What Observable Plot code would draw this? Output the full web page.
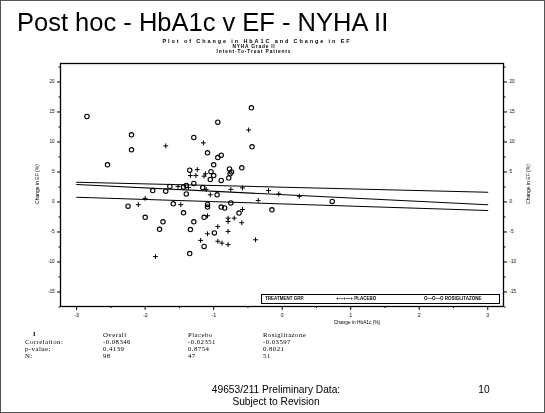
<!DOCTYPE html>
<html><head><meta charset="utf-8">
<script src="https://cdn.jsdelivr.net/npm/d3@7"></script>
<script src="https://cdn.jsdelivr.net/npm/@observablehq/plot@0.6"></script>
<style>
body{margin:0;background:#fff;}
#slide{position:relative;width:545px;height:413px;overflow:hidden;font-family:"Liberation Sans",Arial,sans-serif;color:#000;background:#fff;}
#border{position:absolute;left:0;top:0;width:545px;height:413px;box-sizing:border-box;border:1px solid #555;pointer-events:none;}
#chart{position:absolute;left:0;top:0;}
#texts{position:absolute;left:0;top:0;width:545px;height:413px;filter:grayscale(1);}
.t{position:absolute;white-space:nowrap;line-height:1;transform:translate(0,-50%);color:#000;}
.c{transform:translate(-50%,-50%);}
.serif{font-family:"Liberation Serif","Times New Roman",serif;}
</style></head><body>
<div id="slide"><div id="chart"></div><div id="texts"></div><div id="border"></div></div>
<script>
// ---- data ----
const rosiX = [-2.85,-0.45,-0.94,-2.2,-1.29,-2.2,-0.44,-1.09,-0.94,-0.89,-2.55,-1.0,-1.35,-0.77,-0.74,-0.59,-1.04,-1.0,-0.76,-1.05,-0.89,-0.78,-1.29,-1.64,-1.44,-1.4,-1.16,-1.89,-1.7,-1.4,-0.95,0.73,-0.75,-2.25,-1.59,-1.09,-1.09,-0.89,-0.84,-0.15,-1.44,-0.63,-2.0,-1.14,-1.29,-1.74,-1.79,-1.34,-0.99,-1.14,-1.35];
const rosiY = [14.25,15.7,13.3,11.2,10.75,8.7,9.2,8.2,7.4,7.8,6.2,6.2,5.3,5.5,5.0,5.7,5.05,4.4,4.7,3.75,3.6,4.0,3.1,2.6,2.5,2.75,2.4,1.9,1.8,1.35,1.2,0.1,-0.15,-0.7,-0.3,-0.4,-0.85,-0.85,-1.0,-1.3,-1.8,-1.85,-2.55,-2.55,-3.3,-3.3,-4.55,-4.6,-5.15,-7.4,-8.6];
const placeboX = [-0.49,-1.15,-1.7,-1.24,-1.34,-1.26,-1.14,-1.12,-1.52,-1.37,-1.11,-1.05,-0.75,-0.58,-0.2,-0.05,0.25,-0.35,-2.1,-1.48,-0.58,-0.7,-0.79,-0.79,-1.09,-0.59,-0.94,-1.09,-0.79,-1.19,-0.39,-0.94,-0.88,-0.79,-1.85,-2.0];
const placeboY = [12.0,9.85,9.35,5.4,4.4,4.4,4.3,4.7,2.6,2.4,2.1,1.2,2.1,2.35,1.9,1.35,0.95,0.25,-0.45,-0.45,-1.25,-2.7,-2.7,-3.25,-2.3,-3.45,-4.1,-5.3,-4.9,-6.4,-6.3,-6.55,-6.85,-7.1,-9.1,0.6];
const regGroups = ["Placebo","Overall","Rosiglitazone"];
const regXStart = -3, regXEnd = 3;
const regYStart = [3.3, 2.92, 0.8];
const regYEnd = [1.63, -0.47, -1.42];
const xTicks = [-3,-2,-1,0,1,2,3];
const xMinor = [-2.5,-1.5,-0.5,0.5,1.5,2.5];
const yTicks = [-15,-10,-5,0,5,10,15,20];
const yMinor = [-12.5,-7.5,-2.5,2.5,7.5,12.5,17.5,22.5,-17.5];
const statColumns = ["Overall","Placebo","Rosiglitazone"];
const statRows = ["Correlation:","p-value:","N:"];
const correlation = ["-0.08346","-0.02351","-0.03597"];
const pValue = ["0.4139","0.8754","0.8021"];
const nCount = ["98","47","51"];

// ---- build ----
const rosi = rosiX.map((x,i)=>({x, y:rosiY[i]}));
const placebo = placeboX.map((x,i)=>({x, y:placeboY[i]}));
const reg = regGroups.flatMap((g,i)=>[{g,x:regXStart,y:regYStart[i]},{g,x:regXEnd,y:regYEnd[i]}]);

const fmt = d => d < 0 ? "-" + Math.abs(d) : String(d);
const chart = Plot.plot({
  width:545, height:330,
  marginLeft:60, marginRight:42, marginTop:63, marginBottom:24,
  style:{fontFamily:"Liberation Sans, Arial, sans-serif", background:"transparent"},
  x:{domain:[-3.236,3.23]},
  y:{domain:[-17.42,23.08]},
  marks:[
    Plot.axisX({ticks:xTicks, tickSize:4, fontSize:5, tickPadding:3, label:null, tickFormat:fmt}),
    Plot.axisX({ticks:xMinor, tickSize:2, tickFormat:()=>"", label:null}),
    Plot.axisY({anchor:"left", ticks:yTicks, tickSize:3, fontSize:4.5, tickPadding:3, label:null, tickFormat:fmt}),
    Plot.axisY({anchor:"left", ticks:yMinor.filter(v=>v<23), tickSize:1.5, tickFormat:()=>"", label:null}),
    Plot.axisY({anchor:"right", ticks:yTicks, tickSize:3, fontSize:4.5, tickPadding:3, label:null, tickFormat:fmt}),
    Plot.axisY({anchor:"right", ticks:yMinor.filter(v=>v<23), tickSize:1.5, tickFormat:()=>"", label:null}),
    Plot.line(reg, {x:"x", y:"y", z:"g", stroke:"#000", strokeWidth:1.1}),
    Plot.dot(rosi, {x:"x", y:"y", r:2.2, stroke:"#000", strokeWidth:1.1, fill:"none"}),
    Plot.dot(placebo, {x:"x", y:"y", symbol:"plus", r:1.7, stroke:"#000", strokeWidth:1, fill:"none"}),
    Plot.frame({stroke:"#000", strokeWidth:1.3})
  ]
});
document.getElementById("chart").appendChild(chart);

// ---- texts ----
const T = document.getElementById("texts");
function txt(s, x, y, o={}) {
  const d = document.createElement("div");
  d.className = "t" + (o.center ? " c" : "") + (o.serif ? " serif" : "");
  d.textContent = s;
  d.style.left = x + "px"; d.style.top = y + "px";
  d.style.fontSize = (o.size||8) + "px";
  if (o.ls) d.style.letterSpacing = o.ls + "px";
  if (o.weight) d.style.fontWeight = o.weight;
  if (o.rotate) d.style.transform = "translate(-50%,-50%) rotate(-90deg)";
  T.appendChild(d);
  return d;
}
txt("Post hoc - HbA1c v EF - NYHA II", 17, 23, {size:25.5});
txt("Plot of Change in HbA1C and Change in EF", 257, 41.5, {center:true, size:5.5, ls:1.9, weight:"bold"});
txt("NYHA Grade II", 254, 46.5, {center:true, size:4.8, ls:0.8, weight:"bold"});
txt("Intent-To-Treat Patients", 254, 51.5, {center:true, size:4.8, ls:0.9, weight:"bold"});
txt("Change in EF (%)", 37, 184, {center:true, size:5, rotate:true});
txt("Change in EF (%)", 528, 184, {center:true, size:5, rotate:true});
txt("Change in HbA1c (%)", 357, 322.5, {center:true, size:4.8});

// legend box
const lb = document.createElement("div");
Object.assign(lb.style,{position:"absolute",left:"261px",top:"294px",width:"239px",height:"10px",border:"1px solid #000",boxSizing:"border-box",background:"#fff"});
T.appendChild(lb);
txt("TREATMENT GRP.", 265, 299, {size:4.5, weight:"bold"});
txt("+\u2014+\u2014+  PLACEBO", 336, 299, {size:4.5, weight:"bold"});
txt("O\u2014O\u2014O  ROSIGLITAZONE", 424, 299, {size:4.5, weight:"bold"});

// stats table
txt("I", 33, 333.5, {size:6.5, weight:"bold", serif:true});
const colX = [103, 188, 263];
const rowY = [342, 349, 356];
statColumns.forEach((c,i)=>txt(c, colX[i], 335, {size:6.8, serif:true, ls:0.45}));
statRows.forEach((r,i)=>txt(r, 25, rowY[i], {size:6.8, serif:true, ls:0.45}));
[correlation, pValue, nCount].forEach((arr,ri)=>arr.forEach((v,ci)=>txt(v, colX[ci], rowY[ri], {size:6.8, serif:true, ls:0.45})));

// footer
txt("49653/211 Preliminary Data:", 276, 390, {center:true, size:10.2});
txt("Subject to Revision", 276, 401.5, {center:true, size:10.2});
txt("10", 484, 390, {center:true, size:10.2});
</script>
</body></html>
